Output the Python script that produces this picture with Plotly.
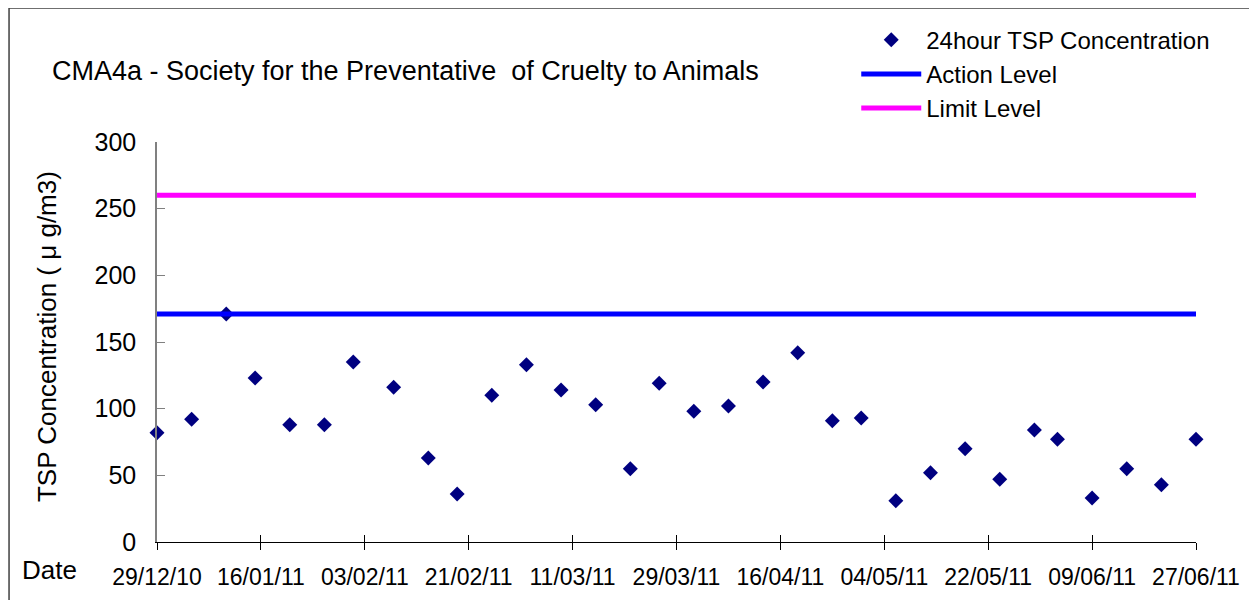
import plotly.graph_objects as go

dates = ["2010-12-29", "2011-01-04", "2011-01-10", "2011-01-15", "2011-01-21", "2011-01-27",
         "2011-02-01", "2011-02-08", "2011-02-14", "2011-02-19", "2011-02-25", "2011-03-03",
         "2011-03-09", "2011-03-15", "2011-03-21", "2011-03-26", "2011-04-01", "2011-04-07",
         "2011-04-13", "2011-04-19", "2011-04-25", "2011-04-30", "2011-05-06", "2011-05-12",
         "2011-05-18", "2011-05-24", "2011-05-30", "2011-06-03", "2011-06-09", "2011-06-15",
         "2011-06-21", "2011-06-27"]
tsp = [82, 92, 171, 123, 88, 88, 135, 116, 63, 36, 110, 133,
       114, 103, 55, 119, 98, 102, 120, 142, 91, 93, 31, 52,
       70, 47, 84, 77, 33, 55, 43, 77]

action_level = 171
limit_level = 260
level_dates = ["2010-12-29", "2011-06-27"]

tick_vals = ["2010-12-29", "2011-01-16", "2011-02-03", "2011-02-21", "2011-03-11", "2011-03-29",
             "2011-04-16", "2011-05-04", "2011-05-22", "2011-06-09", "2011-06-27"]
tick_text = ["29/12/10", "16/01/11", "03/02/11", "21/02/11", "11/03/11", "29/03/11",
             "16/04/11", "04/05/11", "22/05/11", "09/06/11", "27/06/11"]

FONT = "Liberation Sans, Arial, sans-serif"

fig = go.Figure()
fig.add_trace(go.Scatter(x=dates, y=tsp, mode="markers", name="24hour TSP Concentration",
                         marker=dict(symbol="diamond", size=11.5, color="#000080"),
                         cliponaxis=False))
fig.add_trace(go.Scatter(x=level_dates, y=[action_level] * 2, mode="lines", name="Action Level",
                         line=dict(color="#0000FF", width=5), cliponaxis=False))
fig.add_trace(go.Scatter(x=level_dates, y=[limit_level] * 2, mode="lines", name="Limit Level",
                         line=dict(color="#FF00FF", width=5), cliponaxis=False))
fig.add_trace(go.Scatter(x=level_dates, y=[None, None], xaxis="x2", showlegend=False,
                         hoverinfo="skip"))

fig.update_layout(
    width=1257, height=600,
    margin=dict(l=149, r=69, t=134, b=66, autoexpand=False),
    paper_bgcolor="white", plot_bgcolor="white",
    font=dict(family=FONT, size=24, color="black"),
    showlegend=True,
    legend=dict(x=0.673, xanchor="left", y=1.311, yanchor="top",
                bgcolor="rgba(0,0,0,0)", font=dict(size=24), itemwidth=60,
                tracegroupgap=0),
    title=dict(text="CMA4a - Society for the Preventative  of Cruelty to Animals",
               x=44 / 1257, xanchor="left", y=1 - 63 / 600, yanchor="middle",
               pad=dict(l=0, r=0, t=0, b=0),
               font=dict(size=27, family=FONT)),
    xaxis=dict(type="date", range=[level_dates[0], level_dates[1]],
               tickvals=tick_vals, ticktext=tick_text,
               showline=True, linecolor="black", linewidth=1,
               ticks="outside", ticklen=7, tickcolor="black", tickwidth=1,
               showgrid=False, zeroline=False, ticklabelstandoff=7,
               tickfont=dict(size=23)),
    xaxis2=dict(type="date", matches="x", overlaying="x", side="bottom",
                tickvals=tick_vals, showticklabels=False,
                ticks="inside", ticklen=7, tickcolor="black", tickwidth=1,
                showline=False, showgrid=False, zeroline=False),
    yaxis=dict(range=[0, 300], dtick=50, showline=True, linecolor="#808080", linewidth=1.5,
               ticks="inside", ticklen=8, tickcolor="#808080", tickwidth=1,
               showgrid=False, zeroline=False, ticklabelstandoff=14,
               tickfont=dict(size=25)),
    shapes=[dict(type="rect", xref="paper", yref="paper",
                 x0=-0.1424, x1=1.2, y0=-0.3, y1=1.335,
                 line=dict(color="#404040", width=1.5), fillcolor="rgba(0,0,0,0)")],
    annotations=[
        dict(text="TSP Concentration ( μ g/m3)", xref="paper", yref="paper",
             x=-0.1056, y=0.513, textangle=-90, showarrow=False,
             xanchor="center", yanchor="middle", font=dict(size=26)),
        dict(text="Date", xref="paper", yref="paper", x=-0.1315, y=-0.069,
             xanchor="left", yanchor="middle", showarrow=False, font=dict(size=26)),
    ],
)

fig.write_html("out.html")
